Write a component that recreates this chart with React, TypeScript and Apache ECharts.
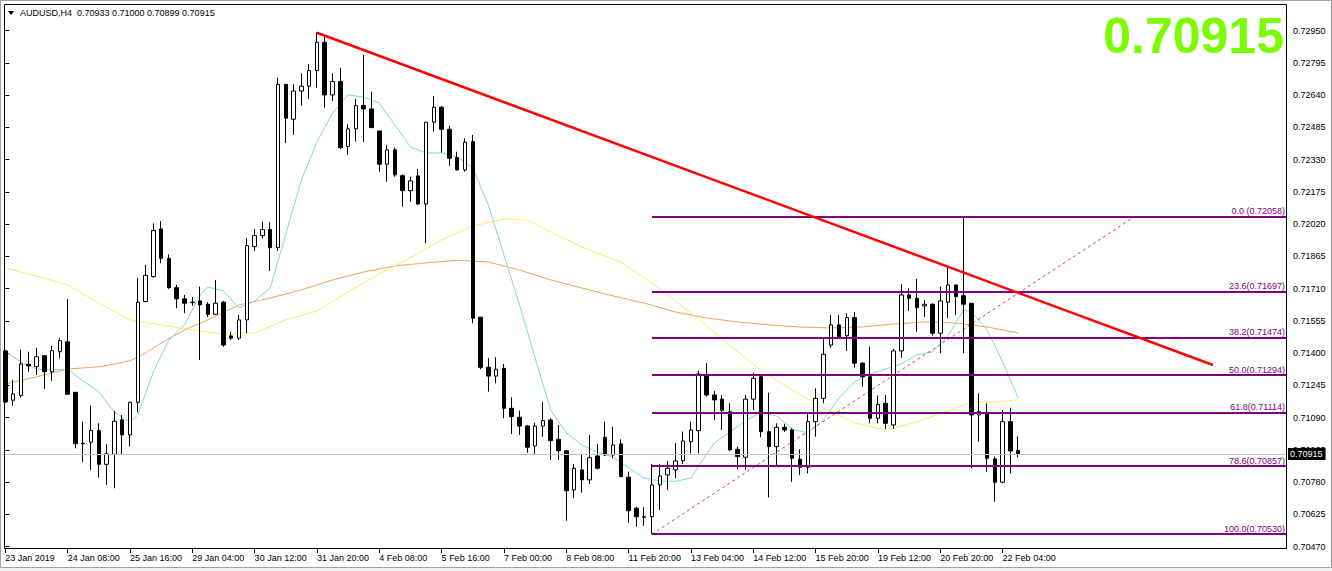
import React, { useEffect, useRef } from 'react';
import * as echarts from 'echarts';

const symbolName = 'AUDUSD,H4';
const headerValues = '0.70933 0.71000 0.70899 0.70915';
const bidPrice = 0.70915;
const bigPriceText = '0.70915';

const tickLabels = [
  '23 Jan 2019', '24 Jan 08:00', '25 Jan 16:00', '29 Jan 04:00', '30 Jan 12:00', '31 Jan 20:00',
  '4 Feb 08:00', '5 Feb 16:00', '7 Feb 00:00', '8 Feb 08:00', '11 Feb 20:00', '13 Feb 04:00',
  '14 Feb 12:00', '15 Feb 20:00', '19 Feb 12:00', '20 Feb 20:00', '22 Feb 04:00',
];
const barsPerLabel = 8;
const totalSlots = 165;

const yTicks = [
  0.7047, 0.70625, 0.7078, 0.70935, 0.7109, 0.71245, 0.714, 0.71555, 0.7171,
  0.71865, 0.7202, 0.72175, 0.7233, 0.72485, 0.7264, 0.72795, 0.7295,
];
const yMin = 0.70459;
const yMax = 0.73078;

const openP = [
  0.71411, 0.71174, 0.71196, 0.71346, 0.71335, 0.71388, 0.71311, 0.71407, 0.71455, 0.71212,
  0.70967, 0.70972, 0.71028, 0.70866, 0.70914, 0.7108, 0.71007, 0.71164, 0.71648, 0.71768,
  0.71997, 0.71856, 0.71715, 0.71661, 0.71645, 0.71651, 0.71635, 0.71587, 0.71645, 0.71483,
  0.71472, 0.7156, 0.71912, 0.71965, 0.71994, 0.71907, 0.72692, 0.72524, 0.7266, 0.72683,
  0.72758, 0.72894, 0.72641, 0.72705, 0.72393, 0.72478, 0.7259, 0.72574, 0.72468, 0.72308,
  0.72377, 0.72253, 0.72181, 0.72252, 0.72117, 0.7251, 0.72582, 0.72476, 0.7234, 0.72281,
  0.72417, 0.71573, 0.71332, 0.7129, 0.71327, 0.71135, 0.71092, 0.7105, 0.70954, 0.7105,
  0.71079, 0.70986, 0.70931, 0.70743, 0.70839, 0.70791, 0.70906, 0.70996, 0.70911, 0.70964,
  0.70804, 0.70655, 0.70614, 0.70614, 0.70767, 0.70815, 0.70839, 0.70883, 0.70975, 0.71028,
  0.71295, 0.71199, 0.71179, 0.71119, 0.70938, 0.709, 0.71179, 0.71287, 0.71023, 0.70951,
  0.71044, 0.71031, 0.7089, 0.70852, 0.71071, 0.71183, 0.71439, 0.71536, 0.71484, 0.71571,
  0.71352, 0.71287, 0.71087, 0.71159, 0.71055, 0.71411, 0.7168, 0.71664, 0.71627, 0.71635,
  0.71496, 0.71645, 0.71728, 0.71676, 0.7164, 0.71103, 0.71116, 0.70892, 0.7078, 0.71071,
  0.70933,
];
const closeP = [
  0.71166, 0.71204, 0.71348, 0.71339, 0.71383, 0.71311, 0.71412, 0.7146, 0.71203, 0.70965,
  0.70965, 0.71028, 0.70866, 0.70916, 0.71073, 0.71007, 0.71164, 0.71645, 0.71774, 0.7199,
  0.71856, 0.71715, 0.71661, 0.7164, 0.71643, 0.71632, 0.71587, 0.7164, 0.71439, 0.71472,
  0.7156, 0.71917, 0.71965, 0.71994, 0.71907, 0.72692, 0.72529, 0.7266, 0.72683, 0.72758,
  0.72894, 0.72641, 0.72705, 0.72388, 0.72478, 0.7259, 0.72574, 0.72484, 0.72308, 0.72377,
  0.72257, 0.72181, 0.72228, 0.72117, 0.7251, 0.72582, 0.72476, 0.72337, 0.72281, 0.72414,
  0.71568, 0.71332, 0.7129, 0.71323, 0.71135, 0.71095, 0.7105, 0.70948, 0.7105, 0.71076,
  0.7098, 0.70931, 0.70739, 0.70847, 0.70791, 0.70898, 0.70847, 0.70911, 0.70959, 0.70807,
  0.70643, 0.70614, 0.70612, 0.70767, 0.7081, 0.70847, 0.70882, 0.70978, 0.71031, 0.713,
  0.71199, 0.71175, 0.71124, 0.70935, 0.70903, 0.71179, 0.71279, 0.71023, 0.70951, 0.71044,
  0.71031, 0.70895, 0.70852, 0.71071, 0.71183, 0.71395, 0.71536, 0.71479, 0.71571, 0.71352,
  0.71287, 0.71087, 0.71154, 0.71063, 0.71411, 0.7168, 0.71664, 0.71619, 0.71635, 0.71496,
  0.71651, 0.71728, 0.71672, 0.71635, 0.71103, 0.71119, 0.70895, 0.7078, 0.71071, 0.7093,
  0.70915,
];
const lowP = [
  0.71161, 0.71148, 0.71186, 0.71311, 0.71295, 0.71228, 0.71268, 0.71376, 0.71199, 0.70943,
  0.70876, 0.70839, 0.70802, 0.70767, 0.70751, 0.70914, 0.70951, 0.71116, 0.71645, 0.71763,
  0.71832, 0.71709, 0.71616, 0.71592, 0.71628, 0.71367, 0.71575, 0.71584, 0.71431, 0.71463,
  0.71463, 0.71496, 0.71891, 0.71952, 0.71795, 0.71891, 0.72409, 0.72449, 0.7259, 0.72622,
  0.72676, 0.7258, 0.72612, 0.72381, 0.72353, 0.72417, 0.72414, 0.72481, 0.72272, 0.72224,
  0.72248, 0.72104, 0.72128, 0.72112, 0.71928, 0.72465, 0.72364, 0.723, 0.72277, 0.72272,
  0.71544, 0.71323, 0.71215, 0.71255, 0.71087, 0.71012, 0.71007, 0.70922, 0.70916, 0.70999,
  0.70887, 0.70887, 0.70595, 0.70703, 0.7073, 0.70771, 0.70842, 0.70906, 0.70895, 0.70804,
  0.70585, 0.70566, 0.7057, 0.7053, 0.70646, 0.70743, 0.70799, 0.70868, 0.70919, 0.70919,
  0.71191, 0.71079, 0.71031, 0.70931, 0.70842, 0.70839, 0.71127, 0.70996, 0.70707, 0.70863,
  0.71021, 0.70782, 0.70815, 0.70823, 0.70999, 0.71159, 0.71426, 0.71474, 0.71411, 0.7133,
  0.71239, 0.71063, 0.71063, 0.71036, 0.71036, 0.71378, 0.71603, 0.71503, 0.71575, 0.71484,
  0.714, 0.71568, 0.71584, 0.714, 0.70847, 0.70975, 0.70831, 0.70686, 0.70775, 0.70823,
  0.70899,
];
const highP = [
  0.71415, 0.71273, 0.71417, 0.71407, 0.71426, 0.71391, 0.71435, 0.71472, 0.71659, 0.71213,
  0.71071, 0.71148, 0.71063, 0.70962, 0.71122, 0.71103, 0.71167, 0.71763, 0.71824, 0.72024,
  0.72035, 0.71875, 0.71728, 0.7168, 0.7167, 0.7172, 0.71645, 0.71752, 0.71651, 0.71503,
  0.71584, 0.71952, 0.71997, 0.72032, 0.72029, 0.72724, 0.72694, 0.72692, 0.72745, 0.72789,
  0.72942, 0.72921, 0.72745, 0.72772, 0.725, 0.72622, 0.72833, 0.72657, 0.72468, 0.72401,
  0.72388, 0.7226, 0.72248, 0.72285, 0.72511, 0.72636, 0.72588, 0.72492, 0.72368, 0.72433,
  0.72449, 0.71574, 0.71376, 0.7138, 0.71348, 0.71188, 0.71124, 0.71055, 0.71066, 0.71167,
  0.71087, 0.71055, 0.70935, 0.70868, 0.70911, 0.71007, 0.70964, 0.71071, 0.71047, 0.70986,
  0.70831, 0.70662, 0.70659, 0.70868, 0.70868, 0.70883, 0.70967, 0.71023, 0.71071, 0.71316,
  0.71352, 0.71218, 0.71199, 0.71159, 0.70951, 0.71199, 0.71306, 0.7129, 0.7121, 0.71063,
  0.7106, 0.71039, 0.70938, 0.71108, 0.71231, 0.71475, 0.71584, 0.71584, 0.71592, 0.71597,
  0.71356, 0.71431, 0.71196, 0.71199, 0.7142, 0.71731, 0.71712, 0.71757, 0.71656, 0.7164,
  0.7172, 0.71816, 0.71728, 0.72058, 0.7164, 0.71207, 0.71159, 0.70903, 0.71127, 0.71138,
  0.71,
];

// Moving averages: [bar index, price]
const maFast = [
  [0, 0.71407], [2, 0.71358], [4, 0.71324], [6, 0.71319], [8, 0.71324], [10, 0.71266],
  [12, 0.71214], [14, 0.71117], [16, 0.71069], [17, 0.71103], [19, 0.7131], [21, 0.71463],
  [23, 0.71536], [25, 0.7168], [26, 0.71718], [28, 0.71699], [30, 0.71617], [32, 0.71651],
  [34, 0.71713], [36, 0.71973], [38, 0.72232], [40, 0.72415], [42, 0.72554], [44, 0.72641],
  [46, 0.72631], [48, 0.72602], [50, 0.72497], [52, 0.72391], [54, 0.72362], [56, 0.72362],
  [58, 0.72343], [60, 0.7229], [62, 0.72112], [64, 0.71872], [66, 0.71632], [68, 0.71377],
  [70, 0.71127], [72, 0.71017], [74, 0.70959], [76, 0.70925], [78, 0.70901], [80, 0.70848],
  [82, 0.708], [84, 0.70786], [86, 0.70784], [88, 0.708], [89, 0.70858], [91, 0.70968],
  [93, 0.71021], [95, 0.71074], [97, 0.71117], [99, 0.71098], [101, 0.71036], [103, 0.71017],
  [105, 0.71079], [107, 0.71185], [109, 0.71262], [111, 0.713], [113, 0.71324], [115, 0.71348],
  [117, 0.71391], [119, 0.71406], [121, 0.71483], [123, 0.71608], [124, 0.71598], [126, 0.71512],
  [128, 0.71358], [130, 0.71185],
];
const maMid = [
  [0, 0.7181], [4, 0.71771], [8, 0.71728], [12, 0.71641], [16, 0.7156], [20, 0.71536],
  [24, 0.71512], [28, 0.71492], [32, 0.71497], [36, 0.7156], [40, 0.71603], [44, 0.71694],
  [48, 0.71781], [52, 0.71858], [56, 0.71944], [60, 0.72011], [64, 0.72045], [67, 0.7204],
  [70, 0.71983], [74, 0.7191], [79, 0.71838], [84, 0.71709], [89, 0.71564],
  [93, 0.71435], [97, 0.71319], [101, 0.71223], [105, 0.71137], [109, 0.71065], [113, 0.71031],
  [117, 0.71069], [121, 0.71122], [124, 0.71166], [127, 0.71166], [130, 0.71175],
];
const maSlow = [
  [0, 0.71252], [4, 0.71286], [8, 0.71324], [12, 0.71334], [16, 0.71363], [18, 0.71401],
  [20, 0.71449], [23, 0.71512], [26, 0.7156], [30, 0.71632], [34, 0.71665], [38, 0.71704],
  [42, 0.71752], [46, 0.7179], [50, 0.71819], [54, 0.71834], [58, 0.71846], [62, 0.71838],
  [66, 0.718], [70, 0.71752], [74, 0.71713], [78, 0.71675], [82, 0.71641], [86, 0.71598],
  [90, 0.71569], [94, 0.7155], [98, 0.71536], [102, 0.71526], [106, 0.71521], [110, 0.71526],
  [114, 0.7154], [118, 0.7155], [122, 0.71545], [126, 0.71526], [130, 0.71497],
];

const fibLevels = [0.72058, 0.71697, 0.71474, 0.71294, 0.71114, 0.70857, 0.7053];
const fibLabels = [
  '0.0 (0.72058)', '23.6(0.71697)', '38.2(0.71474)', '50.0(0.71294)',
  '61.8(0.71114)', '78.6(0.70857)', '100.0(0.70530)',
];
const fibStartBar = 83;
const fibAnchors = [[83, 0.7053], [145, 0.72058]];
const trendLine = [[40, 0.7294], [155, 0.71343]];

const FONT = '"Liberation Sans", Arial, sans-serif';

export default function App() {
  const ref = useRef<HTMLDivElement>(null);

  useEffect(() => {
    if (!ref.current) return;
    const chart = echarts.init(ref.current, undefined, { renderer: 'svg' });
    const categories = Array.from({ length: totalSlots }, (_, i) => String(i));
    const candles = openP.map((o, i) => [o, closeP[i], lowP[i], highP[i]]);
    const showTick = (index: number) =>
      index % barsPerLabel === 0 && index / barsPerLabel < tickLabels.length;
    const xEnd = totalSlots - 0.5;

    const fibSeries = {
      type: 'line',
      xAxisIndex: 1,
      yAxisIndex: 0,
      data: [],
      silent: true,
      markLine: {
        silent: true,
        precision: 5,
        symbol: ['none', 'none'],
        animation: false,
        lineStyle: { color: '#800080', width: 2, type: 'solid' },
        label: {
          show: true,
          position: 'insideEndTop',
          color: '#800080',
          fontFamily: FONT,
          fontSize: 9,
          distance: [2, 1],
        },
        data: fibLevels.map((lvl, i) => [
          { coord: [fibStartBar, lvl], label: { formatter: fibLabels[i] } },
          { coord: [xEnd, lvl] },
        ]),
      },
      z: 3,
    };

    const option: any = {
      animation: false,
      backgroundColor: '#ffffff',
      grid: { left: 1.4, right: 45, top: 4, bottom: 22, containLabel: false },
      xAxis: [
        {
          type: 'category',
          data: categories,
          boundaryGap: true,
          axisLine: { show: false },
          axisTick: {
            show: true,
            alignWithLabel: true,
            interval: showTick,
            length: 4,
            lineStyle: { color: '#000' },
          },
          axisLabel: {
            show: true,
            interval: showTick,
            formatter: (_v: string, index: number) => tickLabels[index / barsPerLabel] ?? '',
            align: 'left',
            margin: 4,
            color: '#000',
            fontFamily: FONT,
            fontSize: 9,
            hideOverlap: false,
          },
          splitLine: { show: false },
        },
        {
          type: 'value',
          show: false,
          min: -0.5,
          max: xEnd,
        },
      ],
      yAxis: [
        {
          type: 'value',
          position: 'right',
          min: yMin,
          max: yMax,
          scale: true,
          axisLine: { show: false },
          axisTick: {
            show: true,
            length: 4,
            customValues: yTicks,
            lineStyle: { color: '#000' },
          },
          axisLabel: {
            show: true,
            customValues: yTicks,
            formatter: (v: number) => v.toFixed(5),
            margin: 6,
            color: '#000',
            fontFamily: FONT,
            fontSize: 9,
          },
          splitLine: { show: false },
        },
      ],
      series: [
        {
          type: 'line',
          xAxisIndex: 1,
          data: maSlow,
          symbol: 'none',
          silent: true,
          lineStyle: { color: '#eba65a', width: 1 },
          z: 1,
        },
        {
          type: 'line',
          xAxisIndex: 1,
          data: maMid,
          symbol: 'none',
          silent: true,
          lineStyle: { color: '#fbea6e', width: 1 },
          z: 1,
        },
        {
          type: 'line',
          xAxisIndex: 1,
          data: maFast,
          symbol: 'none',
          silent: true,
          lineStyle: { color: '#78dcdc', width: 1 },
          z: 1,
        },
        fibSeries,
        {
          type: 'line',
          xAxisIndex: 1,
          data: fibAnchors,
          symbol: 'none',
          silent: true,
          lineStyle: { color: '#e0403c', width: 1, type: [3, 3] },
          z: 3,
        },
        {
          type: 'candlestick',
          xAxisIndex: 0,
          data: candles,
          barWidth: 4,
          silent: true,
          itemStyle: {
            color: '#ffffff',
            color0: '#000000',
            borderColor: '#000000',
            borderColor0: '#000000',
            borderWidth: 1,
          },
          markLine: {
            silent: true,
            precision: 5,
            symbol: ['none', 'none'],
            animation: false,
            lineStyle: { color: '#c0c0c0', width: 1, type: 'solid' },
            label: {
              show: true,
              position: 'end',
              formatter: bidPrice.toFixed(5),
              backgroundColor: '#000',
              color: '#fff',
              fontFamily: FONT,
              fontSize: 9,
              padding: [2, 3, 1, 2],
              distance: 1,
            },
            data: [{ yAxis: bidPrice }],
          },
          z: 4,
        },
        {
          type: 'line',
          xAxisIndex: 1,
          data: trendLine,
          symbol: 'none',
          silent: true,
          lineStyle: { color: '#ff0000', width: 2.5 },
          z: 5,
        },
      ],
      graphic: [
        {
          type: 'rect',
          silent: true,
          shape: { x: 0.5, y: 0.5, width: 1331, height: 567 },
          style: { fill: 'none', stroke: '#a0a0a0', lineWidth: 1 },
          z: 10,
        },
        {
          type: 'rect',
          silent: true,
          shape: { x: 0, y: 568, width: 1332, height: 3 },
          style: { fill: '#f0f0f0' },
          z: 10,
        },
        {
          type: 'rect',
          silent: true,
          shape: { x: 4.5, y: 4.5, width: 1282, height: 544 },
          style: { fill: 'none', stroke: '#000', lineWidth: 1 },
          z: 10,
        },
        {
          type: 'polygon',
          silent: true,
          shape: { points: [[8, 11], [14, 11], [11, 15]] },
          style: { fill: '#000' },
          z: 10,
        },
        {
          type: 'text',
          silent: true,
          x: 20,
          y: 13,
          style: {
            text: symbolName + '  ' + headerValues,
            fill: '#000',
            font: '9px ' + FONT,
            textVerticalAlign: 'middle',
          },
          z: 10,
        },
        {
          type: 'text',
          silent: true,
          x: 1284,
          y: 36,
          style: {
            text: bigPriceText,
            fill: '#7cfc00',
            font: 'bold 50px ' + FONT,
            textAlign: 'right',
            textVerticalAlign: 'middle',
          },
          z: 10,
        },
      ],
    };

    chart.setOption(option);
    return () => chart.dispose();
  }, []);

  return (
    <div
      ref={ref}
      style={{ position: 'fixed', left: 0, top: 0, width: 1332, height: 571, background: '#fff' }}
    />
  );
}
